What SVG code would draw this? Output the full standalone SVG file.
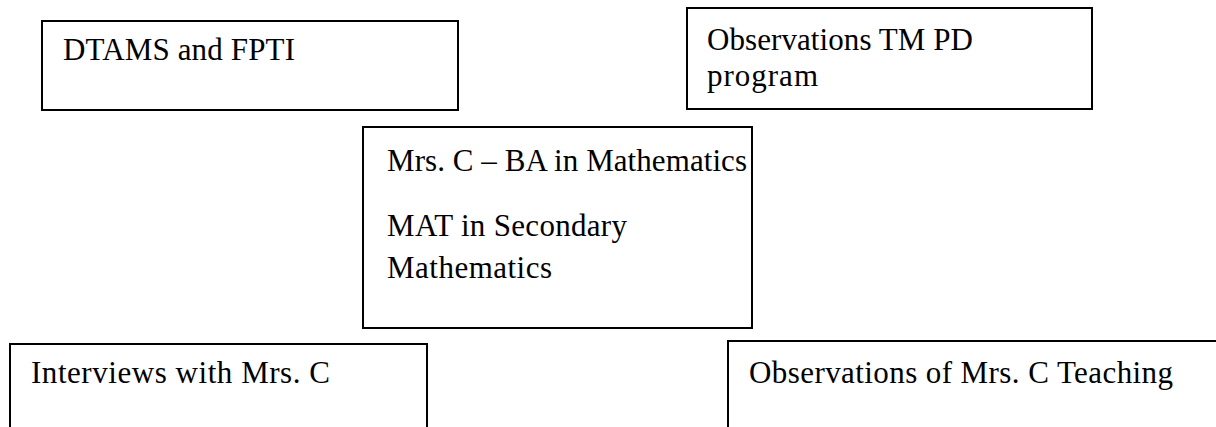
<svg xmlns="http://www.w3.org/2000/svg" width="1216" height="427" viewBox="0 0 1216 427">
<style>
.box{fill:none;stroke:#000;stroke-width:2}
.t{font-family:"Liberation Serif","Times New Roman",serif;font-size:31px;fill:#000}
</style>
<rect width="1216" height="427" fill="#fff"/>
<g id="dtams">
<rect class="box" x="42" y="21" width="416" height="89"/>
<text class="t" x="63" y="60" textLength="232">DTAMS and FPTI</text>
</g>
<g id="obs-tm">
<rect class="box" x="687" y="8" width="405" height="101"/>
<text class="t" x="707" y="50" textLength="266">Observations TM PD</text>
<text class="t" x="707" y="86" textLength="111">program</text>
</g>
<g id="mrs-c">
<rect class="box" x="363" y="127" width="389" height="201"/>
<text class="t" x="387" y="171" textLength="360">Mrs. C – BA in Mathematics</text>
<text class="t" x="387" y="236" textLength="240">MAT in Secondary</text>
<text class="t" x="387" y="278" textLength="165">Mathematics</text>
</g>
<g id="interviews">
<path class="box" d="M10,428 V344 H427 V428"/>
<text class="t" x="31" y="383" textLength="299">Interviews with Mrs. C</text>
</g>
<g id="obs-teaching">
<path class="box" d="M728,428 V341 H1217"/>
<text class="t" x="749" y="383" textLength="424">Observations of Mrs. C Teaching</text>
</g>
<g id="connectors"></g>
</svg>
